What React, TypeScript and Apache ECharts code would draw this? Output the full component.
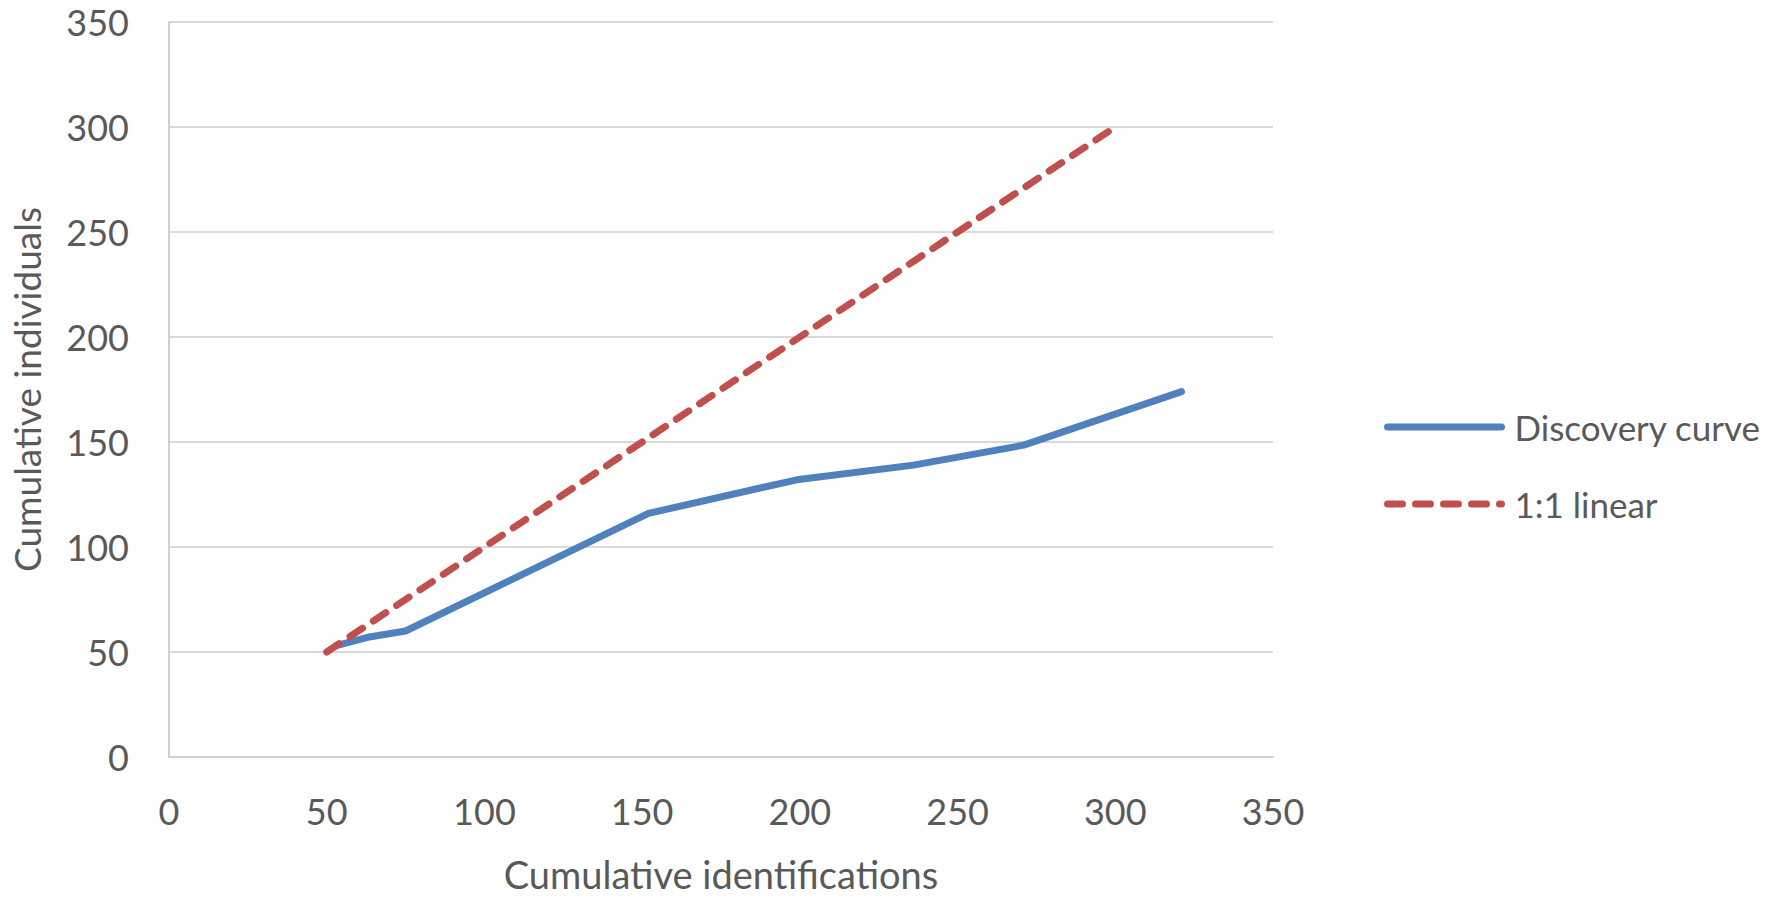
import React, { useEffect, useRef } from "react";
import * as echarts from "echarts";

const discoveryX = [53, 63, 75, 152, 199, 236, 271, 321];
const discoveryY = [53, 57, 60, 116, 132, 139, 148.5, 174];
const linearX = [50, 300];
const linearY = [50, 300];
const axisTicks = [0, 50, 100, 150, 200, 250, 300, 350];
const seriesNames = ["Discovery curve", "1:1 linear"];
const xAxisTitle = "Cumulative identifications";
const yAxisTitle = "Cumulative individuals";

const FONT = "Lato, 'Open Sans', 'DejaVu Sans', sans-serif";
const TEXT = "#595959";

export default function App() {
  const ref = useRef<HTMLDivElement>(null);
  useEffect(() => {
    document.body.style.margin = "0";
    if (!ref.current) return;
    const chart = echarts.init(ref.current, undefined, { renderer: "svg" });
    const axisMin = axisTicks[0];
    const axisMax = axisTicks[axisTicks.length - 1];
    const interval = axisTicks[1] - axisTicks[0];
    chart.setOption({
      animation: false,
      backgroundColor: "#ffffff",
      grid: { left: 167, right: 501, top: 22, bottom: 145, containLabel: false },
      legend: {
        orient: "vertical",
        left: 1379,
        top: 402,
        itemWidth: 114,
        itemHeight: 2,
        itemGap: 37,
        data: seriesNames,
        lineStyle: { width: 7, cap: "round" },
        itemStyle: { opacity: 0 },
        textStyle: { fontFamily: FONT, fontSize: 35, color: TEXT, lineHeight: 40, padding: [0, 0, 0, 8] },
      },
      xAxis: {
        type: "value",
        min: axisMin,
        max: axisMax,
        interval,
        name: xAxisTitle,
        nameLocation: "middle",
        nameGap: 98,
        nameTextStyle: { fontFamily: FONT, fontSize: 38, color: TEXT },
        axisLine: { show: true, lineStyle: { color: "#D0D0D0", width: 2 } },
        axisTick: { show: false },
        splitLine: { show: false },
        axisLabel: { fontFamily: FONT, fontSize: 36, color: TEXT, margin: 36 },
      },
      yAxis: {
        type: "value",
        min: axisMin,
        max: axisMax,
        interval,
        name: yAxisTitle,
        nameLocation: "middle",
        nameGap: 124,
        nameTextStyle: { fontFamily: FONT, fontSize: 37, color: TEXT },
        axisLine: { show: true, lineStyle: { color: "#D0D0D0", width: 2 } },
        axisTick: { show: false },
        splitLine: { show: true, lineStyle: { color: "#D9D9D9", width: 2 } },
        axisLabel: { fontFamily: FONT, fontSize: 36, color: TEXT, margin: 40 },
      },
      series: [
        {
          name: seriesNames[0],
          type: "line",
          symbol: "none",
          data: discoveryX.map((x, i) => [x, discoveryY[i]]),
          lineStyle: { color: "#4F81BD", width: 7, cap: "round", join: "round" },
          itemStyle: { color: "#4F81BD" },
        },
        {
          name: seriesNames[1],
          type: "line",
          symbol: "none",
          data: linearX.map((x, i) => [x, linearY[i]]),
          lineStyle: { color: "#C0504D", width: 7, type: [15, 13], cap: "round" },
          itemStyle: { color: "#C0504D" },
        },
      ],
    });
    return () => chart.dispose();
  }, []);
  return <div ref={ref} style={{ width: 1774, height: 902 }} />;
}
